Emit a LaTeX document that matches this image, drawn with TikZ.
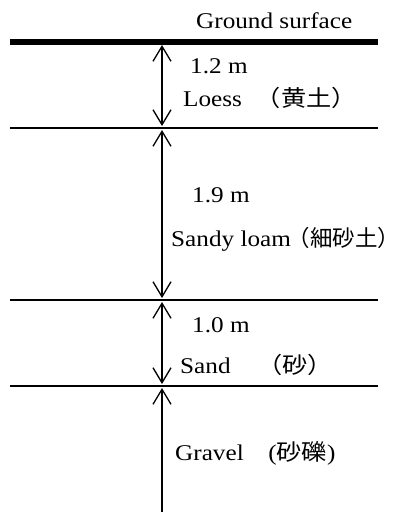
\documentclass[tikz,border=0pt]{standalone}
\usepackage{graphicx}
\usepackage{fontspec}
\setmainfont{Liberation Serif}
\newfontfamily\cjk{Noto Sans CJK JP}
\usetikzlibrary{arrows.meta}
\newcommand{\wide}[1]{\scalebox{1.12}[1]{#1}}
\begin{document}
\begin{tikzpicture}[x=1pt,y=-1pt,
  lbl/.style={anchor=base west, inner sep=0pt, font=\fontsize{22.5}{26}\selectfont},
  layer/.style={line width=1.5pt},
  surf/.style={line width=6pt},
  barb/.tip={Straight Barb[length=15pt,width=18pt]},
  dim/.style={line width=1.3pt, barb-barb},
  dimup/.style={line width=1.3pt, barb-}]
\fill[white] (0,0) rectangle (401,515);
\useasboundingbox (0,0) rectangle (401,515);
% layer boundaries
\coordinate (s0) at (10,41.5);  \coordinate (s1) at (378,41.5);
\coordinate (b1l) at (10,128);  \coordinate (b1r) at (378,128);
\coordinate (b2l) at (10,300);  \coordinate (b2r) at (378,300);
\coordinate (b3l) at (10,386);  \coordinate (b3r) at (378,386);
\draw[surf] (s0) -- (s1);
\draw[layer] (b1l) -- (b1r);
\draw[layer] (b2l) -- (b2r);
\draw[layer] (b3l) -- (b3r);
% dimension arrows
\coordinate (a1t) at (162,45);  \coordinate (a1b) at (162,126);
\coordinate (a2t) at (162,130); \coordinate (a2b) at (162,298);
\coordinate (a3t) at (162,302); \coordinate (a3b) at (162,384);
\coordinate (a4t) at (162,388); \coordinate (a4b) at (162,512);
\draw[dim] (a1t) -- (a1b);
\draw[dim] (a2t) -- (a2b);
\draw[dim] (a3t) -- (a3b);
\draw[dimup] (a4t) -- (a4b);
% labels
\node[lbl] (gs) at (196,28) {\wide{Ground surface}};
\node[lbl] (d1) at (190,73) {\wide{1.2 m}};
\node[lbl] (loess) at (183,106) {\wide{Loess\hspace{12.5pt}{\cjk （黄土）}}};
\node[lbl] (d2) at (192,202) {\wide{1.9 m}};
\node[lbl] (loam) at (171,246) {\wide{Sandy loam}\hspace{-3pt}{\cjk （細砂土）}};
\node[lbl] (d3) at (192,332) {\wide{1.0 m}};
\node[lbl] (sand) at (180,373) {\wide{Sand\hspace{24pt}{\cjk （砂）}}};
\node[lbl] (gravel) at (175,460) {\wide{Gravel\hspace{22pt}({\cjk 砂礫})}};
\end{tikzpicture}
\end{document}
